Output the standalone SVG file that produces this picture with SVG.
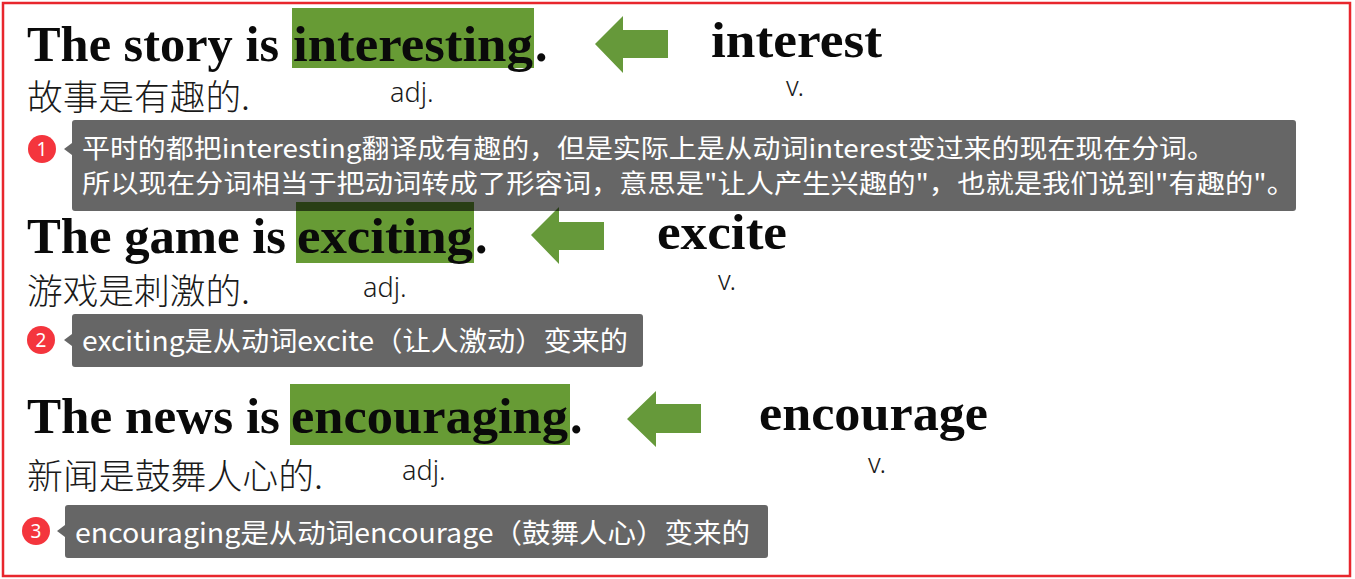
<svg xmlns="http://www.w3.org/2000/svg" width="1355" height="579" viewBox="0 0 1355 579">
<style>
.sent{font-family:"Liberation Serif","Times New Roman",serif;font-weight:bold;font-size:50px;fill:#0a0a0a}
.zh{font-family:"Noto Sans CJK SC","Noto Sans",sans-serif;font-weight:200;font-size:35px;fill:#1a1a1a}
.pos{font-family:"Noto Sans","Noto Sans CJK SC",sans-serif;font-weight:300;font-size:27px;fill:#1a1a1a}
.hl{fill:#679b35}
.arrow{fill:#66993a}
.box{fill:#000;fill-opacity:0.6}
.note{font-family:"Noto Sans CJK SC","Noto Sans",sans-serif;font-size:27px;fill:#fff}
.note.two{font-size:26px}
.badge{fill:#f4353d}
.num{font-family:"Noto Sans","Liberation Sans",sans-serif;font-size:19px;fill:#fff;text-anchor:middle}
</style>
<rect x="0" y="0" width="1355" height="579" fill="#ffffff"/>
<rect id="frame" x="3" y="3" width="1347" height="573" fill="none" stroke="#e8262d" stroke-width="2.5"/>

<g id="row1">
  <rect class="hl" x="292" y="8" width="242" height="60"/>
  <text class="sent" x="27" y="61" textLength="252" lengthAdjust="spacingAndGlyphs">The story is</text>
  <text class="sent" x="293" y="61" textLength="240" lengthAdjust="spacingAndGlyphs">interesting</text>
  <text class="sent" x="535" y="61">.</text>
  <text class="zh" x="27" y="110" textLength="223" lengthAdjust="spacingAndGlyphs">故事是有趣的.</text>
  <text class="pos" x="390" y="102">adj.</text>
  <text class="sent" x="711" y="57" textLength="171" lengthAdjust="spacingAndGlyphs">interest</text>
  <text class="pos" x="786" y="96">v.</text>
</g>

<g id="row2">
  <rect class="hl" x="296" y="202" width="178" height="61"/>
  <text class="sent" x="27" y="253" textLength="259" lengthAdjust="spacingAndGlyphs">The game is</text>
  <text class="sent" x="297" y="253" textLength="176" lengthAdjust="spacingAndGlyphs">exciting</text>
  <text class="sent" x="475" y="253">.</text>
  <text class="zh" x="27" y="304" textLength="223" lengthAdjust="spacingAndGlyphs">游戏是刺激的.</text>
  <text class="pos" x="363" y="297">adj.</text>
  <text class="sent" x="657" y="249" textLength="130" lengthAdjust="spacingAndGlyphs">excite</text>
  <text class="pos" x="718" y="290">v.</text>
</g>

<g id="row3">
  <rect class="hl" x="290" y="384" width="280" height="61"/>
  <text class="sent" x="27" y="433" textLength="253" lengthAdjust="spacingAndGlyphs">The news is</text>
  <text class="sent" x="291" y="433" textLength="277" lengthAdjust="spacingAndGlyphs">encouraging</text>
  <text class="sent" x="570" y="433">.</text>
  <text class="zh" x="27" y="489" textLength="296" lengthAdjust="spacingAndGlyphs">新闻是鼓舞人心的.</text>
  <text class="pos" x="402" y="480">adj.</text>
  <text class="sent" x="759" y="430" textLength="229" lengthAdjust="spacingAndGlyphs">encourage</text>
  <text class="pos" x="868" y="473">v.</text>
</g>

<g id="connectors">
  <polygon class="arrow" points="595,44 623,16 623,30 668,30 668,58 623,58 623,73"/>
  <polygon class="arrow" points="531,235 559,207 559,222 604,222 604,250 559,250 559,264"/>
  <polygon class="arrow" points="627,419 656,391 656,404 701,404 701,433 656,433 656,447"/>
</g>

<g id="note1">
  <circle class="badge" cx="42" cy="149" r="14"/>
  <text class="num" x="42" y="156">1</text>
  <path class="box" d="M75,120 H1293 Q1296,120 1296,123 V208 Q1296,211 1293,211 H75 Q72,211 72,208 V155 L64,149 L72,143 V123 Q72,120 75,120 Z"/>
  <text class="note two" x="82" y="158" textLength="1133" lengthAdjust="spacingAndGlyphs">平时的都把interesting翻译成有趣的，但是实际上是从动词interest变过来的现在现在分词。</text>
  <text class="note two" x="82" y="193" textLength="1213" lengthAdjust="spacingAndGlyphs">所以现在分词相当于把动词转成了形容词，意思是"让人产生兴趣的"，也就是我们说到"有趣的"。</text>
</g>

<g id="note2">
  <circle class="badge" cx="41" cy="340" r="14"/>
  <text class="num" x="41" y="347">2</text>
  <path class="box" d="M75,314 H640 Q643,314 643,317 V364 Q643,367 640,367 H75 Q72,367 72,364 V346 L64,340 L72,334 V317 Q72,314 75,314 Z"/>
  <text class="note" x="82" y="351" textLength="546" lengthAdjust="spacingAndGlyphs">exciting是从动词excite（让人激动）变来的</text>
</g>

<g id="note3">
  <circle class="badge" cx="36" cy="531" r="14"/>
  <text class="num" x="36" y="538">3</text>
  <path class="box" d="M68,505 H765 Q768,505 768,508 V555 Q768,558 765,558 H68 Q65,558 65,555 V537 L57,531 L65,525 V508 Q65,505 68,505 Z"/>
  <text class="note" x="75" y="543" textLength="675" lengthAdjust="spacingAndGlyphs">encouraging是从动词encourage（鼓舞人心）变来的</text>
</g>
</svg>
